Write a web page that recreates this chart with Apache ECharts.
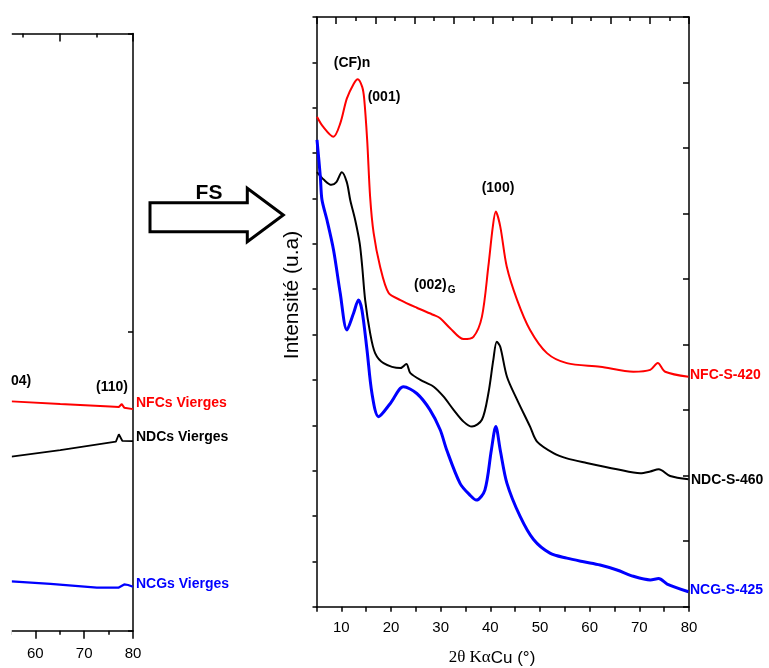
<!DOCTYPE html>
<html>
<head>
<meta charset="utf-8">
<script src="https://cdn.jsdelivr.net/npm/echarts@6/dist/echarts.min.js"></script>
<style>html,body{margin:0;padding:0;background:#fff}#c{width:769px;height:668px}</style>
</head>
<body>
<div id="c"></div>
<script>
// ---- Left panel (pristine samples), x in degrees, y arbitrary units ----
const vNfcX = [55.1, 65.1, 75.3, 77.1, 77.7, 78.2, 80];
const vNfcY = [0.768, 0.759, 0.751, 0.749, 0.759, 0.747, 0.742];
const vNdcX = [55.1, 65.1, 76.5, 77.1, 77.8, 80];
const vNdcY = [0.583, 0.605, 0.633, 0.658, 0.636, 0.635];
const vNcgX = [55.1, 63.1, 72.6, 77.0, 78.2, 79.0, 80];
const vNcgY = [0.165, 0.157, 0.144, 0.144, 0.155, 0.153, 0.147];

// ---- Right panel (fluorinated samples) ----
const nfcX = [5.1, 6.2, 8.4, 9.8, 11.1, 12.5, 13.3, 14.2, 14.6, 15.2, 15.8, 16.5, 17.8, 19.5, 21.9, 25.2, 28.6, 29.9, 31.9, 34.6, 36.6, 38.3, 39.6, 40.5, 41.1, 42.0, 43.3, 45.4, 48.0, 51.4, 55.4, 62.1, 68.8, 72.2, 73.7, 75.2, 79.9];
const nfcY = [10.8, 10.6, 10.36, 10.66, 11.2, 11.53, 11.63, 11.46, 11.2, 10.29, 9.03, 8.24, 7.5, 6.92, 6.76, 6.59, 6.43, 6.36, 6.14, 5.9, 5.95, 6.39, 7.5, 8.38, 8.71, 8.38, 7.5, 6.76, 6.1, 5.59, 5.37, 5.29, 5.18, 5.22, 5.37, 5.18, 5.07];
const ndcX = [5.1, 6.5, 8.0, 9.0, 10.1, 11.1, 11.8, 12.8, 13.7, 14.2, 14.8, 15.8, 16.8, 18.5, 21.9, 23.1, 23.9, 26.6, 28.6, 30.6, 32.6, 34.6, 36.3, 38.3, 39.6, 40.6, 41.3, 42.0, 43.35, 45.4, 48.0, 49.4, 52.8, 55.4, 59.4, 65.5, 70.2, 72.2, 73.9, 76.2, 79.9];
const ndcY = [9.58, 9.41, 9.30, 9.36, 9.58, 9.36, 8.96, 8.52, 8.01, 7.50, 6.76, 6.03, 5.59, 5.37, 5.26, 5.35, 5.15, 4.96, 4.85, 4.63, 4.34, 4.08, 3.97, 4.12, 4.70, 5.44, 5.84, 5.73, 5.07, 4.56, 3.97, 3.64, 3.38, 3.27, 3.17, 3.03, 2.94, 2.98, 3.03, 2.88, 2.81];
const ncgX = [5.1, 5.77, 6.1, 7.1, 8.44, 9.78, 11.12, 12.46, 13.46, 14.15, 15.17, 16.17, 17.5, 19.86, 22.5, 25.2, 27.85, 29.9, 31.2, 33.9, 35.9, 37.2, 38.9, 40.2, 41.1, 42.0, 43.35, 46.0, 48.7, 52.0, 55.4, 58.8, 62.1, 65.5, 68.8, 72.2, 73.9, 75.6, 79.9];
const ncgY = [10.29, 9.48, 8.97, 8.53, 7.86, 6.91, 6.10, 6.47, 6.76, 6.54, 5.66, 4.70, 4.19, 4.48, 4.85, 4.70, 4.34, 3.90, 3.46, 2.72, 2.46, 2.35, 2.57, 3.45, 3.97, 3.45, 2.72, 1.99, 1.48, 1.18, 1.07, 0.99, 0.92, 0.81, 0.67, 0.59, 0.62, 0.50, 0.33];

const bottomTicksRight = [10, 20, 30, 40, 50, 60, 70, 80];

const zip = (xs, ys) => xs.map((x, i) => [x, ys[i]]);
const RED = '#ff0000', BLUE = '#0000ff', BLACK = '#000000';
const FONT = '"Liberation Sans", Arial, sans-serif';

const chart = echarts.init(document.getElementById('c'), null, {renderer: 'canvas'});

const axisLine = {show: true, onZero: false, lineStyle: {color: '#000', width: 1.5}};
const noSplit = {show: false};
const tickStyle = {color: '#000', width: 1.5};

const option = {
  animation: false,
  backgroundColor: '#fff',
  grid: [
    {left: -13.5, top: 33.5, width: 146.5, height: 597.2, containLabel: false, outerBoundsMode: 'none'},
    {left: 316.5, top: 17, width: 372.5, height: 589.7, containLabel: false, outerBoundsMode: 'none'}
  ],
  xAxis: [
    {gridIndex: 0, type: 'value', position: 'bottom', min: 50, max: 80, interval: 10,
     axisLine: axisLine, splitLine: noSplit,
     axisTick: {show: true, length: 8, lineStyle: tickStyle},
     minorTick: {show: true, splitNumber: 2, length: 4, lineStyle: tickStyle},
     axisLabel: {show: true, color: '#000', fontSize: 15, fontFamily: FONT, margin: 16}},
    {gridIndex: 0, type: 'value', position: 'top', min: 0, max: 4, interval: 2,
     axisLine: axisLine, splitLine: noSplit,
     axisTick: {show: true, inside: true, length: 8, lineStyle: tickStyle},
     minorTick: {show: true, splitNumber: 2, length: 4, lineStyle: tickStyle},
     axisLabel: {show: false}},
    {gridIndex: 1, type: 'value', position: 'bottom', min: 5, max: 80, interval: 5,
     axisLine: axisLine, splitLine: noSplit,
     axisTick: {show: true, length: 5, lineStyle: tickStyle},
     axisLabel: {show: true, color: '#000', fontSize: 15, fontFamily: FONT, margin: 14,
       formatter: v => bottomTicksRight.indexOf(v) >= 0 ? String(v) : ''}},
    {gridIndex: 1, type: 'value', position: 'top', inverse: true, min: 0, max: 19, interval: 2,
     axisLine: axisLine, splitLine: noSplit,
     axisTick: {show: true, inside: true, length: 7, lineStyle: tickStyle},
     minorTick: {show: true, splitNumber: 2, length: 4, lineStyle: tickStyle},
     axisLabel: {show: false}}
  ],
  yAxis: [
    {gridIndex: 0, type: 'value', position: 'right', min: 0, max: 2, interval: 1,
     axisLine: axisLine, splitLine: noSplit,
     axisTick: {show: true, inside: true, length: 5, lineStyle: tickStyle},
     axisLabel: {show: false}},
    {gridIndex: 1, type: 'value', position: 'left', min: 0, max: 13, interval: 1,
     axisLine: axisLine, splitLine: noSplit,
     axisTick: {show: true, inside: false, length: 4, lineStyle: tickStyle},
     axisLabel: {show: false}},
    {gridIndex: 1, type: 'value', position: 'right', min: 0, max: 9, interval: 1,
     axisLine: axisLine, splitLine: noSplit,
     axisTick: {show: true, inside: true, length: 6, lineStyle: tickStyle},
     axisLabel: {show: false}}
  ],
  series: [
    {name: 'NFCs Vierges', type: 'line', xAxisIndex: 0, yAxisIndex: 0, data: zip(vNfcX, vNfcY), showSymbol: false, lineStyle: {color: RED, width: 2}},
    {name: 'NDCs Vierges', type: 'line', xAxisIndex: 0, yAxisIndex: 0, data: zip(vNdcX, vNdcY), showSymbol: false, lineStyle: {color: BLACK, width: 1.8}},
    {name: 'NCGs Vierges', type: 'line', xAxisIndex: 0, yAxisIndex: 0, data: zip(vNcgX, vNcgY), showSymbol: false, lineStyle: {color: BLUE, width: 2.2}},
    {name: 'NFC-S-420', type: 'line', xAxisIndex: 2, yAxisIndex: 1, data: zip(nfcX, nfcY), showSymbol: false, smooth: 0.3, lineStyle: {color: RED, width: 2}},
    {name: 'NDC-S-460', type: 'line', xAxisIndex: 2, yAxisIndex: 1, data: zip(ndcX, ndcY), showSymbol: false, smooth: 0.3, lineStyle: {color: BLACK, width: 2}},
    {name: 'NCG-S-425', type: 'line', xAxisIndex: 2, yAxisIndex: 1, data: zip(ncgX, ncgY), showSymbol: false, smooth: 0.3, lineStyle: {color: BLUE, width: 3}}
  ],
  graphic: [
    {type: 'rect', z: 100, shape: {x: 0, y: 0, width: 11.8, height: 668}, style: {fill: '#fff'}},
    {type: 'polygon', z: 50, shape: {points: [[150, 202.7], [247.3, 202.7], [247.3, 188.3], [283.3, 215], [247.3, 241.7], [247.3, 231.7], [150, 231.7]]},
     style: {fill: '#fff', stroke: '#000', lineWidth: 3, lineJoin: 'miter'}},
    {type: 'text', z: 50, style: {x: 209, y: 193, text: 'FS', font: 'bold 21px ' + FONT, fill: '#000', textAlign: 'center', textVerticalAlign: 'middle'}},
    // left panel annotations
    {type: 'text', z: 101, style: {x: 11, y: 381, text: '04)', font: 'bold 14px ' + FONT, fill: '#000', textAlign: 'left', textVerticalAlign: 'middle'}},
    {type: 'text', z: 50, style: {x: 112, y: 387, text: '(110)', font: 'bold 14px ' + FONT, fill: '#000', textAlign: 'center', textVerticalAlign: 'middle'}},
    {type: 'text', z: 50, style: {x: 136, y: 403, text: 'NFCs Vierges', font: 'bold 14px ' + FONT, fill: RED, textAlign: 'left', textVerticalAlign: 'middle'}},
    {type: 'text', z: 50, style: {x: 136, y: 437, text: 'NDCs Vierges', font: 'bold 14px ' + FONT, fill: BLACK, textAlign: 'left', textVerticalAlign: 'middle'}},
    {type: 'text', z: 50, style: {x: 136, y: 584, text: 'NCGs Vierges', font: 'bold 14px ' + FONT, fill: BLUE, textAlign: 'left', textVerticalAlign: 'middle'}},
    // right panel annotations
    {type: 'text', z: 50, style: {x: 352, y: 63, text: '(CF)n', font: 'bold 14px ' + FONT, fill: '#000', textAlign: 'center', textVerticalAlign: 'middle'}},
    {type: 'text', z: 50, style: {x: 384, y: 97, text: '(001)', font: 'bold 14px ' + FONT, fill: '#000', textAlign: 'center', textVerticalAlign: 'middle'}},
    {type: 'text', z: 50, style: {x: 498, y: 188, text: '(100)', font: 'bold 14px ' + FONT, fill: '#000', textAlign: 'center', textVerticalAlign: 'middle'}},
    {type: 'text', z: 50, style: {x: 414, y: 285, text: '{a|(002)}{b|G}', textAlign: 'left', textVerticalAlign: 'middle',
      rich: {a: {font: 'bold 14px ' + FONT, fill: '#000'}, b: {font: 'bold 10px ' + FONT, fill: '#000', padding: [10, 0, 0, 1]}}}},
    {type: 'text', z: 50, style: {x: 690, y: 375, text: 'NFC-S-420', font: 'bold 14px ' + FONT, fill: RED, textAlign: 'left', textVerticalAlign: 'middle'}},
    {type: 'text', z: 50, style: {x: 691, y: 480, text: 'NDC-S-460', font: 'bold 14px ' + FONT, fill: BLACK, textAlign: 'left', textVerticalAlign: 'middle'}},
    {type: 'text', z: 50, style: {x: 690, y: 590, text: 'NCG-S-425', font: 'bold 14px ' + FONT, fill: BLUE, textAlign: 'left', textVerticalAlign: 'middle'}},
    // axis titles
    {type: 'text', z: 50, x: 292, y: 295, rotation: Math.PI / 2,
     style: {x: 0, y: 0, text: 'Intensité (u.a)', font: '21px ' + FONT, fill: '#000', textAlign: 'center', textVerticalAlign: 'middle'}},
    {type: 'text', z: 50, style: {x: 492, y: 658, text: '{s|2θ Kα}{a|Cu (°)}', textAlign: 'center', textVerticalAlign: 'middle',
      rich: {s: {font: '17px "Liberation Serif", "Times New Roman", serif', fill: '#000'}, a: {font: '17px ' + FONT, fill: '#000'}}}}
  ]
};
chart.setOption(option);
</script>
</body>
</html>
